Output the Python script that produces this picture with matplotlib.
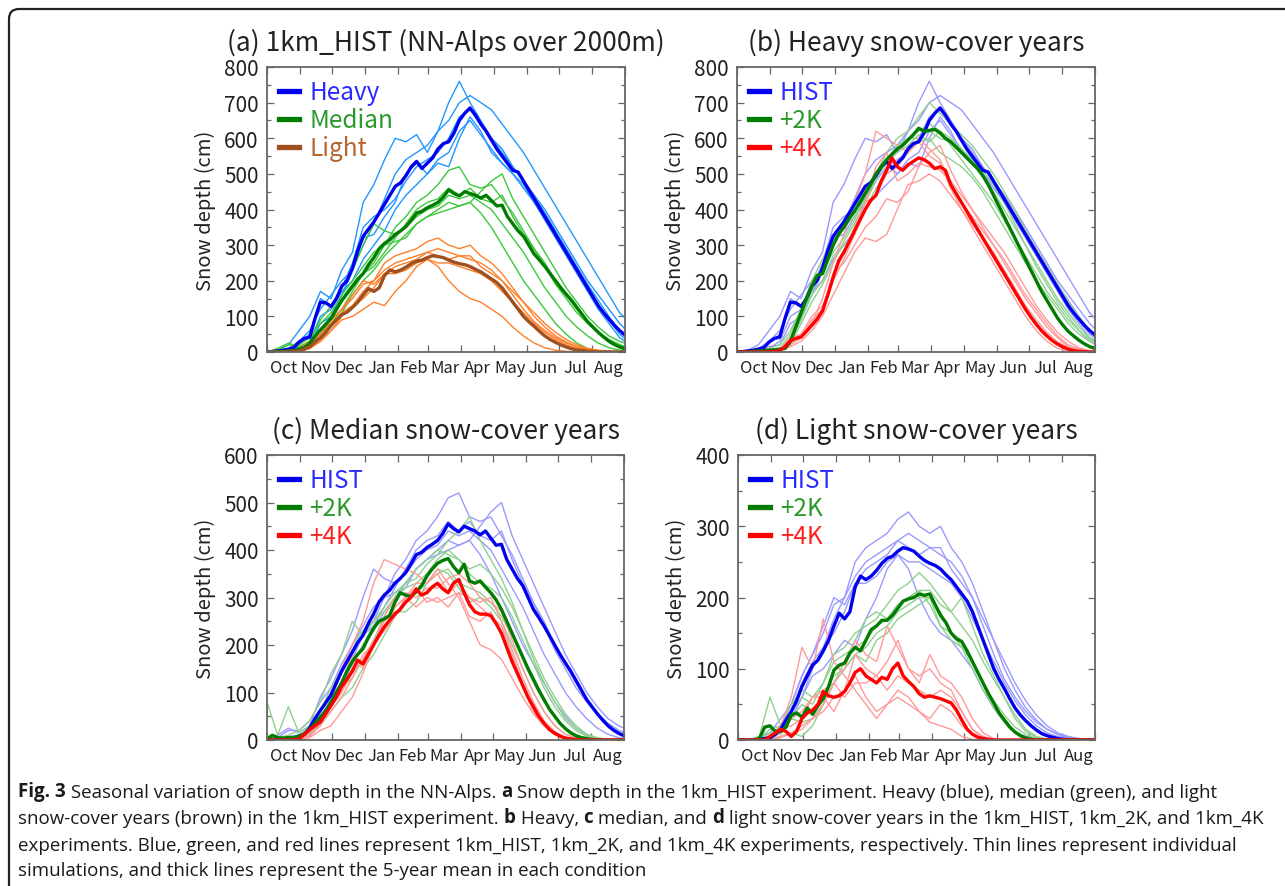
import numpy as np
import matplotlib
matplotlib.use("Agg")
import matplotlib.pyplot as plt
from matplotlib.lines import Line2D
from matplotlib.patches import FancyBboxPatch
from matplotlib.ticker import MultipleLocator, FixedLocator, NullFormatter
from matplotlib.transforms import IdentityTransform

plt.rcParams['font.family'] = ['Noto Sans CJK JP', 'DejaVu Sans']

# days since 1 Oct: thin runs every 10 days, 5-year means every 5 days
thin_days = np.arange(0, 341, 10)
mean_days = np.arange(0, 336, 5)

month_start = [0, 31, 61, 92, 123, 151, 182, 212, 243, 273, 304, 335]
month_names = ["Oct", "Nov", "Dec", "Jan", "Feb", "Mar", "Apr", "May", "Jun", "Jul", "Aug"]

# ---- 1km_HIST heavy snow-cover years
heavy_mean = [0, 1, 3, 5, 8, 12, 28, 38, 42, 95, 140, 138, 128, 150, 185, 200, 235, 285, 325, 345,
              365, 390, 415, 440, 465, 475, 495, 520, 535, 515, 530, 545, 570, 585, 590, 615, 650, 670, 685, 665,
              640, 620, 595, 570, 550, 530, 510, 505, 480, 455, 430, 405, 380, 355, 330, 305, 280, 255, 230, 205,
              180, 155, 130, 110, 92, 75, 60, 48]
heavy_runs = [
    [0, 5, 20, 60, 100, 170, 150, 230, 280, 420, 470, 540, 600, 590, 610, 560, 620, 700, 760, 700,
     650, 600, 570, 520, 480, 440, 400, 350, 300, 250, 200, 160, 120, 80, 50],
    [0, 2, 10, 30, 60, 120, 160, 200, 230, 300, 360, 430, 500, 540, 560, 580, 620, 650, 700, 720,
     700, 680, 640, 600, 560, 510, 460, 410, 360, 310, 260, 210, 160, 110, 80],
    [0, 0, 2, 10, 30, 100, 120, 170, 200, 260, 300, 340, 400, 440, 470, 500, 540, 560, 620, 650,
     610, 570, 530, 500, 460, 420, 370, 320, 270, 220, 170, 120, 80, 40, 20],
    [0, 3, 8, 25, 50, 150, 130, 180, 250, 350, 380, 400, 430, 480, 520, 540, 560, 600, 660, 680,
     640, 600, 560, 520, 480, 440, 390, 340, 290, 240, 190, 145, 100, 60, 35],
    [0, 0, 5, 15, 20, 80, 100, 160, 230, 320, 330, 380, 420, 500, 530, 500, 530, 520, 600, 660,
     620, 560, 530, 500, 470, 420, 380, 330, 280, 230, 180, 130, 90, 50, 25],
]

# ---- 1km_HIST median snow-cover years
median_mean = [0, 0, 1, 2, 3, 4, 8, 12, 25, 45, 62, 78, 95, 120, 145, 165, 185, 205, 220, 245,
               265, 290, 305, 315, 330, 340, 352, 370, 390, 395, 405, 412, 420, 435, 455, 445, 438, 450, 445, 440,
               432, 440, 425, 410, 412, 380, 360, 340, 325, 300, 275, 258, 240, 220, 200, 180, 162, 145, 125, 105,
               85, 70, 55, 42, 30, 21, 14, 9]
median_runs = [
    [0, 5, 20, 20, 40, 80, 110, 160, 200, 240, 280, 300, 350, 380, 420, 440, 470, 510, 520, 470,
     460, 470, 430, 390, 340, 290, 240, 190, 150, 110, 80, 55, 35, 20, 10],
    [0, 0, 5, 10, 20, 50, 80, 120, 170, 220, 250, 300, 310, 320, 360, 380, 400, 420, 410, 420,
     450, 480, 500, 430, 380, 330, 280, 230, 180, 140, 100, 70, 45, 30, 20],
    [0, 10, 25, 15, 30, 90, 130, 180, 230, 300, 360, 340, 330, 350, 380, 400, 410, 440, 430, 440,
     420, 400, 360, 320, 280, 230, 180, 140, 100, 70, 45, 25, 12, 5, 2],
    [0, 0, 3, 5, 10, 40, 70, 110, 160, 200, 230, 270, 300, 330, 360, 380, 390, 400, 410, 420,
     390, 350, 300, 250, 200, 160, 120, 80, 50, 25, 10, 3, 0, 0, 0],
    [0, 2, 8, 10, 25, 60, 90, 140, 180, 220, 240, 280, 320, 360, 400, 420, 430, 460, 440, 460,
     430, 420, 440, 380, 330, 290, 250, 200, 160, 120, 85, 55, 35, 20, 12],
]

# ---- 1km_HIST light snow-cover years
light_mean = [0, 0, 0, 0, 1, 2, 3, 8, 15, 28, 40, 55, 75, 90, 105, 112, 125, 140, 160, 178,
              170, 180, 215, 230, 225, 230, 238, 248, 255, 258, 265, 270, 268, 265, 258, 252, 248, 245, 240, 232,
              225, 215, 205, 195, 180, 160, 140, 120, 100, 85, 72, 58, 45, 35, 27, 20, 14, 9, 6, 4,
              2, 1, 0, 0, 0, 0, 0, 0]
light_runs = [
    [0, 0, 3, 5, 20, 50, 90, 120, 150, 190, 200, 250, 270, 280, 290, 310, 320, 300, 290, 300,
     270, 250, 220, 180, 140, 100, 70, 45, 28, 15, 8, 3, 1, 0, 0],
    [0, 0, 0, 2, 10, 30, 60, 90, 100, 120, 140, 130, 170, 200, 240, 260, 240, 200, 170, 150,
     140, 120, 100, 70, 45, 25, 12, 5, 2, 0, 0, 0, 0, 0, 0],
    [0, 0, 2, 5, 20, 40, 80, 110, 130, 170, 200, 230, 250, 260, 270, 280, 290, 280, 270, 260,
     250, 230, 200, 160, 120, 85, 60, 40, 25, 15, 8, 4, 2, 0, 0],
    [0, 0, 5, 10, 30, 50, 90, 120, 160, 200, 190, 220, 240, 250, 260, 280, 270, 260, 270, 270,
     240, 220, 200, 170, 140, 110, 80, 55, 35, 20, 10, 5, 2, 1, 0],
    [0, 0, 0, 3, 10, 30, 60, 100, 130, 150, 180, 220, 220, 230, 250, 260, 250, 250, 240, 230,
     220, 200, 170, 140, 110, 80, 55, 35, 20, 10, 5, 2, 0, 0, 0],
]

# ---- 1km_2K / 1km_4K, heavy years
heavy2k_mean = [0, 0, 1, 2, 3, 4, 5, 6, 8, 10, 30, 70, 110, 150, 185, 215, 220, 260, 300, 330,
                350, 375, 395, 420, 445, 470, 500, 520, 540, 555, 570, 580, 595, 610, 628, 620, 622, 625, 615, 600,
                590, 575, 560, 545, 530, 515, 495, 470, 440, 410, 380, 350, 320, 290, 260, 230, 200, 170, 145, 120,
                95, 75, 58, 45, 33, 23, 15, 10]
heavy2k_runs = [
    [0, 2, 5, 10, 20, 60, 120, 200, 260, 320, 370, 420, 450, 500, 560, 600, 620, 660, 700, 670,
     640, 610, 580, 540, 500, 450, 400, 340, 290, 240, 190, 140, 100, 60, 40],
    [0, 0, 2, 5, 10, 30, 90, 160, 200, 270, 300, 330, 400, 460, 500, 520, 560, 590, 600, 560,
     540, 520, 490, 450, 400, 350, 300, 250, 200, 160, 120, 80, 50, 30, 15],
    [0, 1, 3, 4, 8, 40, 100, 170, 230, 300, 350, 380, 430, 490, 530, 570, 600, 620, 640, 620,
     600, 570, 540, 500, 450, 400, 350, 300, 240, 190, 140, 100, 60, 30, 15],
    [0, 0, 1, 2, 5, 20, 80, 140, 190, 250, 310, 360, 420, 480, 540, 580, 600, 600, 620, 600,
     590, 570, 540, 510, 470, 420, 360, 300, 250, 200, 150, 110, 70, 40, 25],
    [0, 3, 6, 8, 10, 50, 120, 190, 230, 280, 320, 370, 440, 500, 530, 560, 580, 610, 590, 620,
     580, 540, 500, 460, 420, 370, 320, 270, 220, 170, 130, 90, 60, 35, 20],
]
heavy4k_mean = [0, 0, 0, 0, 0, 0, 1, 2, 4, 15, 32, 38, 42, 58, 75, 92, 115, 160, 210, 255,
                280, 310, 340, 370, 400, 425, 440, 480, 510, 545, 520, 510, 525, 535, 545, 540, 530, 515, 520, 510,
                470, 445, 420, 395, 370, 345, 320, 295, 270, 245, 220, 195, 170, 145, 120, 98, 78, 60, 45, 32,
                22, 14, 8, 4, 2, 1, 0, 0]
heavy4k_runs = [
    [0, 0, 0, 0, 2, 20, 40, 80, 150, 250, 330, 420, 500, 620, 600, 580, 560, 600, 570, 540,
     470, 420, 380, 340, 300, 260, 210, 160, 120, 80, 45, 20, 8, 2, 0],
    [0, 0, 0, 1, 5, 40, 50, 80, 120, 220, 250, 300, 350, 380, 430, 420, 450, 520, 560, 580,
     510, 450, 400, 350, 300, 250, 200, 150, 110, 70, 40, 15, 5, 0, 0],
    [0, 0, 0, 0, 3, 15, 30, 60, 100, 160, 220, 280, 320, 310, 330, 400, 470, 480, 500, 480,
     440, 400, 350, 300, 250, 200, 150, 100, 60, 30, 10, 3, 0, 0, 0],
    [0, 0, 0, 2, 6, 30, 50, 100, 130, 200, 260, 330, 420, 520, 560, 480, 500, 530, 520, 510,
     480, 440, 400, 360, 320, 280, 230, 180, 130, 90, 55, 30, 12, 4, 0],
    [0, 0, 0, 0, 4, 25, 45, 90, 120, 210, 280, 350, 420, 440, 500, 520, 560, 590, 550, 530,
     460, 400, 360, 320, 280, 230, 180, 130, 90, 55, 28, 12, 4, 1, 0],
]

# ---- 1km_2K / 1km_4K, median years
median2k_mean = [2, 10, 5, 4, 5, 5, 8, 12, 22, 35, 48, 62, 80, 100, 120, 145, 165, 180, 192, 215,
                 235, 250, 255, 262, 290, 310, 305, 302, 312, 325, 345, 360, 372, 378, 382, 365, 352, 370, 335, 330,
                 335, 322, 310, 295, 275, 250, 225, 200, 175, 150, 128, 105, 85, 65, 50, 35, 24, 15, 9, 5,
                 3, 1, 0, 0, 0, 0, 0, 0]
median2k_runs = [
    [80, 10, 70, 15, 30, 60, 110, 150, 200, 230, 250, 270, 300, 330, 340, 370, 390, 420, 440, 470,
     420, 380, 340, 290, 230, 170, 120, 80, 45, 25, 10, 4, 0, 0, 0],
    [0, 5, 10, 20, 40, 80, 140, 180, 250, 220, 250, 280, 310, 330, 360, 380, 400, 390, 380, 360,
     370, 350, 320, 280, 230, 180, 130, 90, 55, 30, 12, 5, 1, 0, 0],
    [5, 3, 5, 5, 15, 30, 60, 90, 110, 150, 180, 220, 260, 290, 310, 330, 350, 360, 330, 320,
     310, 290, 260, 220, 170, 120, 80, 50, 25, 10, 3, 1, 0, 0, 0],
    [0, 0, 3, 8, 20, 40, 80, 120, 160, 200, 240, 250, 270, 270, 290, 330, 360, 350, 320, 290,
     300, 280, 250, 200, 150, 100, 60, 30, 12, 4, 1, 0, 0, 0, 0],
    [0, 2, 5, 10, 25, 50, 70, 110, 130, 170, 210, 260, 300, 320, 330, 350, 380, 400, 380, 350,
     330, 320, 300, 260, 210, 160, 110, 70, 40, 20, 8, 2, 0, 0, 0],
]
median4k_mean = [0, 0, 0, 0, 0, 0, 2, 12, 22, 30, 38, 55, 72, 90, 112, 128, 145, 168, 160, 180,
                 200, 220, 238, 252, 265, 275, 290, 300, 318, 305, 310, 322, 330, 318, 310, 330, 338, 310, 285, 270,
                 265, 265, 262, 245, 225, 195, 165, 140, 115, 90, 70, 50, 35, 22, 14, 8, 4, 2, 1, 0,
                 0, 0, 0, 0, 0, 0, 0, 0]
median4k_runs = [
    [0, 0, 0, 2, 15, 40, 80, 150, 200, 250, 330, 380, 370, 360, 350, 330, 360, 330, 300, 250,
     200, 190, 170, 130, 90, 55, 30, 15, 5, 2, 0, 0, 0, 0, 0],
    [0, 0, 0, 0, 5, 20, 30, 60, 90, 140, 200, 260, 300, 310, 300, 320, 320, 340, 350, 330,
     300, 290, 270, 210, 150, 100, 60, 30, 12, 4, 1, 0, 0, 0, 0],
    [0, 0, 0, 3, 20, 40, 70, 120, 180, 150, 200, 230, 280, 300, 320, 290, 300, 280, 310, 300,
     280, 260, 240, 180, 120, 70, 35, 15, 5, 1, 0, 0, 0, 0, 0],
    [0, 0, 0, 0, 8, 30, 70, 100, 140, 170, 210, 230, 260, 300, 280, 300, 290, 300, 310, 260,
     250, 270, 220, 170, 110, 60, 30, 12, 4, 1, 0, 0, 0, 0, 0],
    [0, 0, 0, 2, 10, 35, 60, 90, 130, 180, 200, 250, 280, 300, 330, 330, 350, 310, 330, 300,
     290, 300, 250, 190, 130, 80, 40, 18, 6, 2, 0, 0, 0, 0, 0],
]

# ---- 1km_2K / 1km_4K, light years
light2k_mean = [0, 0, 0, 0, 2, 18, 20, 12, 12, 18, 35, 38, 32, 45, 36, 48, 58, 75, 98, 105,
                108, 122, 130, 125, 140, 155, 160, 168, 168, 175, 185, 195, 198, 200, 205, 203, 205, 190, 175, 165,
                150, 142, 138, 125, 110, 95, 80, 65, 52, 38, 28, 18, 11, 6, 3, 1, 0, 0, 0, 0,
                0, 0, 0, 0, 0, 0, 0, 0]
light2k_runs = [
    [0, 0, 5, 60, 20, 40, 60, 50, 80, 120, 130, 150, 160, 170, 190, 210, 220, 235, 220, 200,
     180, 160, 140, 110, 85, 60, 35, 15, 5, 1, 0, 0, 0, 0, 0],
    [0, 0, 0, 5, 10, 30, 50, 40, 60, 90, 100, 120, 130, 150, 160, 180, 190, 200, 200, 180,
     150, 130, 100, 70, 45, 25, 10, 3, 0, 0, 0, 0, 0, 0, 0],
    [0, 0, 0, 2, 5, 10, 5, 20, 50, 80, 110, 140, 170, 180, 170, 190, 200, 210, 190, 160,
     140, 130, 110, 80, 50, 30, 12, 4, 1, 0, 0, 0, 0, 0, 0],
    [0, 0, 2, 15, 20, 50, 70, 60, 80, 110, 120, 130, 140, 160, 170, 190, 200, 210, 210, 190,
     180, 200, 160, 120, 90, 60, 30, 12, 4, 1, 0, 0, 0, 0, 0],
    [0, 0, 0, 10, 8, 30, 25, 30, 50, 80, 100, 120, 110, 140, 150, 170, 180, 190, 200, 160,
     150, 140, 110, 80, 55, 35, 18, 8, 2, 0, 0, 0, 0, 0, 0],
]
light4k_mean = [0, 0, 0, 0, 0, 0, 5, 10, 15, 12, 5, 12, 30, 38, 42, 50, 68, 62, 60, 62,
                68, 80, 95, 100, 90, 85, 80, 88, 85, 100, 108, 90, 82, 75, 65, 60, 62, 60, 58, 55,
                52, 42, 28, 15, 8, 4, 2, 1, 0, 0, 0, 0, 0, 0, 0, 0, 0, 0, 0, 0,
                0, 0, 0, 0, 0, 0, 0, 0]
light4k_runs = [
    [0, 0, 0, 5, 20, 60, 130, 100, 170, 110, 90, 70, 50, 30, 50, 70, 60, 40, 25, 20,
     15, 5, 1, 0, 0, 0, 0, 0, 0, 0, 0, 0, 0, 0, 0],
    [0, 0, 0, 0, 5, 10, 20, 30, 50, 80, 100, 140, 120, 110, 160, 130, 100, 90, 100, 80,
     70, 40, 15, 3, 0, 0, 0, 0, 0, 0, 0, 0, 0, 0, 0],
    [0, 0, 0, 2, 10, 30, 40, 60, 60, 40, 70, 120, 100, 90, 110, 140, 100, 80, 120, 90,
     80, 60, 30, 10, 2, 0, 0, 0, 0, 0, 0, 0, 0, 0, 0],
    [0, 0, 0, 5, 15, 20, 30, 60, 70, 80, 60, 80, 80, 90, 70, 90, 80, 70, 60, 70,
     60, 40, 15, 5, 0, 0, 0, 0, 0, 0, 0, 0, 0, 0, 0],
    [0, 0, 0, 0, 3, 10, 15, 30, 40, 60, 70, 90, 60, 40, 50, 60, 50, 40, 30, 50,
     40, 20, 8, 2, 0, 0, 0, 0, 0, 0, 0, 0, 0, 0, 0],
]

W, H = 1285, 887
fig = plt.figure(figsize=(W / 100, H / 100), dpi=100)


def px_axes(left, top, right, bottom):
    return fig.add_axes([left / W, 1 - bottom / H, (right - left) / W, (bottom - top) / H])


def draw_panel(ax, title, ymax, groups, labels, text_colors):
    for runs, mean, thin_col, thick_col in groups:
        for run in runs:
            ax.plot(thin_days, run, color=thin_col, lw=1.0, solid_joinstyle="round")
    for runs, mean, thin_col, thick_col in groups:
        ax.plot(mean_days, mean, color=thick_col, lw=2.4, solid_joinstyle="round")

    ax.set_xlim(0, 335)
    ax.set_ylim(0, ymax)
    ax.xaxis.set_major_locator(FixedLocator(month_start))
    ax.xaxis.set_major_formatter(NullFormatter())
    mids = [(a + b) / 2 for a, b in zip(month_start[:-1], month_start[1:])]
    ax.xaxis.set_minor_locator(FixedLocator(mids))
    ax.set_xticklabels(month_names, minor=True)
    ax.yaxis.set_major_locator(MultipleLocator(100))
    ax.yaxis.set_minor_locator(MultipleLocator(50))

    ax.tick_params(axis="both", which="both", direction="in", top=True, right=True,
                   color="#666666", width=0.9)
    ax.tick_params(axis="x", which="major", length=5)
    ax.tick_params(axis="x", which="minor", length=0, labelsize=12, pad=5, labelcolor="#222222")
    ax.tick_params(axis="y", which="major", length=5, labelsize=15, pad=6, labelcolor="#222222")
    ax.tick_params(axis="y", which="minor", length=3)
    for s in ax.spines.values():
        s.set_color("#666666")
        s.set_linewidth(1.3)

    ax.set_ylabel("Snow depth (cm)", fontsize=14.5, color="#222222")
    ax.yaxis.set_label_coords(-0.142, 0.5)
    ax.set_title(title, fontsize=19, pad=12, color="#222222")

    handles = [Line2D([], [], color=g[3], lw=3.8) for g in groups]
    leg = ax.legend(handles, labels, loc="upper left", frameon=False, fontsize=17.5,
                    handlelength=0.8, handletextpad=0.45, labelspacing=0.08,
                    borderaxespad=0.25, borderpad=0.25)
    for txt, c in zip(leg.get_texts(), text_colors):
        txt.set_color(c)


exp_labels = ["HIST", "+2K", "+4K"]
exp_text = ["#2a2aff", "#2a9a2a", "#ff2020"]

ax_a = px_axes(267, 68, 625, 353)
draw_panel(ax_a, "(a) 1km_HIST (NN-Alps over 2000m)", 800,
           [(heavy_runs, heavy_mean, "#2196ff", "#0000ee"),
            (median_runs, median_mean, "#3cc83c", "#007d00"),
            (light_runs, light_mean, "#ff7f2a", "#a0501e")],
           ["Heavy", "Median", "Light"], ["#2a2aff", "#2a9a2a", "#b8642e"])

ax_b = px_axes(737, 68, 1095, 353)
draw_panel(ax_b, "(b) Heavy snow-cover years", 800,
           [(heavy_runs, heavy_mean, "#9a9aff", "#0000ee"),
            (heavy2k_runs, heavy2k_mean, "#8fd08f", "#007d00"),
            (heavy4k_runs, heavy4k_mean, "#ff9a9a", "#ff0000")],
           exp_labels, exp_text)

ax_c = px_axes(267, 456, 624, 741)
draw_panel(ax_c, "(c) Median snow-cover years", 600,
           [(median_runs, median_mean, "#9a9aff", "#0000ee"),
            (median2k_runs, median2k_mean, "#8fd08f", "#007d00"),
            (median4k_runs, median4k_mean, "#ff9a9a", "#ff0000")],
           exp_labels, exp_text)

ax_d = px_axes(738, 456, 1095, 741)
draw_panel(ax_d, "(d) Light snow-cover years", 400,
           [(light_runs, light_mean, "#9a9aff", "#0000ee"),
            (light2k_runs, light2k_mean, "#8fd08f", "#007d00"),
            (light4k_runs, light4k_mean, "#ff9a9a", "#ff0000")],
           exp_labels, exp_text)

# rounded frame around the figure (runs off the right and bottom edge)
frame = FancyBboxPatch((9, -30), 1320, H - 10 + 30, boxstyle="round,pad=0,rounding_size=10",
                       transform=IdentityTransform(), fill=False, edgecolor="#222222", lw=1.6)
fig.add_artist(frame)

# caption
cap_lines = [
    [("Fig. 3", True), (" Seasonal variation of snow depth in the NN-Alps. ", False), ("a", True),
     (" Snow depth in the 1km_HIST experiment. Heavy (blue), median (green), and light", False)],
    [("snow-cover years (brown) in the 1km_HIST experiment. ", False), ("b", True), (" Heavy, ", False),
     ("c", True), (" median, and ", False), ("d", True),
     (" light snow-cover years in the 1km_HIST, 1km_2K, and 1km_4K", False)],
    [("experiments. Blue, green, and red lines represent 1km_HIST, 1km_2K, and 1km_4K experiments, "
      "respectively. Thin lines represent individual", False)],
    [("simulations, and thick lines represent the 5-year mean in each condition", False)],
]
cap_y = [792, 819, 846, 871]
cap_font = ["Open Sans", "DejaVu Sans"]

renderer = fig.canvas.get_renderer()
probe = fig.text(0, 0, "".join(p for p, _ in cap_lines[1]), fontsize=10, family=cap_font)
probe_w = probe.get_window_extent(renderer).width
probe.remove()
cap_size = 10 * (1258 - 18) / probe_w

for pieces, y in zip(cap_lines, cap_y):
    last = None
    for text, bold in pieces:
        weight = "bold" if bold else "normal"
        if last is None:
            last = fig.text(18 / W, 1 - y / H, text, fontsize=cap_size, family=cap_font,
                            weight=weight, va="center", ha="left", color="#1a1a1a")
        else:
            last = ax_a.annotate(text, xy=(1, 0), xycoords=last, va="bottom", ha="left",
                                 fontsize=cap_size, family=cap_font, weight=weight,
                                 color="#1a1a1a", annotation_clip=False)

fig.savefig("out.png", dpi=100)
